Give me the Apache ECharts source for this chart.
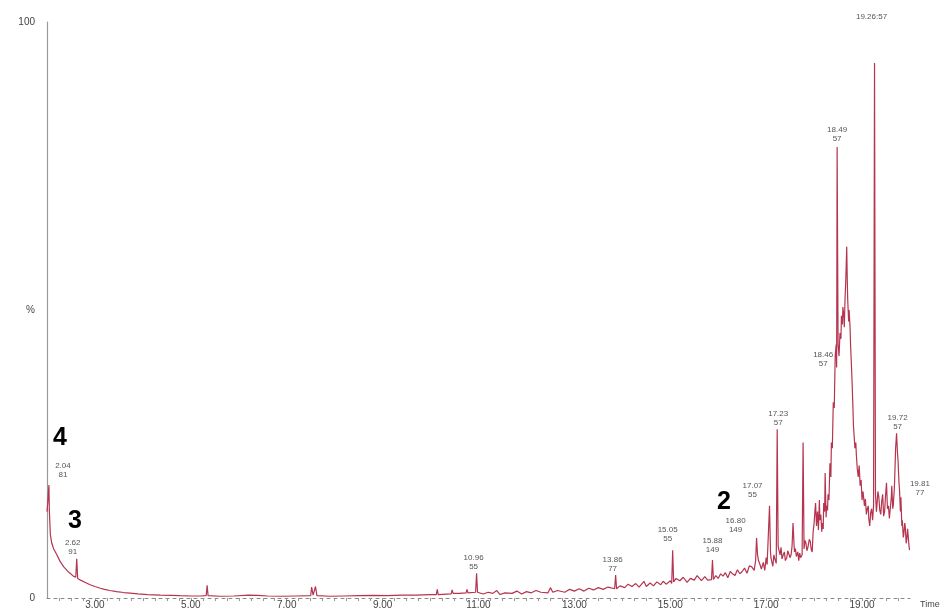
<!DOCTYPE html>
<html>
<head>
<meta charset="utf-8">
<script src="https://cdn.jsdelivr.net/npm/echarts@6/dist/echarts.min.js"></script>
<style>
  html, body { margin: 0; padding: 0; background: #fff; }
  #chromDiv { width: 949px; height: 612px; }
</style>
</head>
<body>
<div id="chromDiv"></div>
<script>
// retention time (min) and relative intensity (%), 10 per line
var times = [
    2.00, 2.02, 2.04, 2.05, 2.07, 2.10, 2.14, 2.20, 2.27, 2.35,
    2.45, 2.55, 2.60, 2.62, 2.64, 2.70, 2.80, 2.90, 3.00, 3.11,
    3.20, 3.31, 3.45, 3.60, 3.73, 3.90, 4.10, 4.36, 4.60, 4.77,
    5.00, 5.20, 5.32, 5.34, 5.36, 5.60, 5.90, 6.20, 6.40, 6.60,
    6.90, 7.20, 7.50, 7.52, 7.55, 7.60, 7.63, 7.90, 8.20, 8.50,
    8.80, 9.10, 9.40, 9.70, 10.00, 10.12, 10.14, 10.16, 10.43, 10.45,
    10.47, 10.60, 10.74, 10.76, 10.78, 10.94, 10.96, 10.98,
    11.10, 11.20, 11.30, 11.38, 11.45, 11.55, 11.70, 11.80, 11.90, 12.00,
    12.10, 12.20, 12.30, 12.45, 12.50, 12.55, 12.65, 12.80, 12.90, 13.00,
    13.10, 13.20, 13.30, 13.40, 13.50, 13.60, 13.70, 13.84, 13.86, 13.88,
    13.95, 14.05, 14.12, 14.20, 14.28, 14.35, 14.45, 14.50, 14.58, 14.65,
    14.72, 14.80, 14.85, 14.92, 15.00, 15.03, 15.05, 15.07, 15.12, 15.20,
    15.27, 15.35, 15.42, 15.50, 15.56, 15.60, 15.65, 15.72, 15.78, 15.86,
    15.88, 15.90, 15.95, 16.00, 16.05, 16.10, 16.15, 16.20, 16.25, 16.30,
    16.35, 16.40, 16.45, 16.50, 16.55, 16.60, 16.65, 16.70, 16.75, 16.78,
    16.80, 16.82, 16.84, 16.88, 16.90, 16.94, 16.97, 17.00, 17.02, 17.04,
    17.07, 17.09, 17.10, 17.12, 17.14, 17.16, 17.18, 17.21, 17.23, 17.25,
    17.27, 17.29, 17.31, 17.33, 17.36, 17.38, 17.40, 17.43, 17.45, 17.48,
    17.50, 17.52, 17.54, 17.56, 17.58, 17.59, 17.61, 17.63, 17.66, 17.68,
    17.70, 17.72, 17.75, 17.77, 17.79, 17.81, 17.83, 17.85, 17.87, 17.90,
    17.92, 17.94, 17.96, 17.98, 18.00, 18.02, 18.03, 18.05, 18.07, 18.09,
    18.11, 18.12, 18.14, 18.16, 18.17, 18.19, 18.20, 18.22, 18.23, 18.25,
    18.26, 18.28, 18.29, 18.31, 18.33, 18.35, 18.36, 18.38, 18.40, 18.42,
    18.44, 18.46, 18.47, 18.48, 18.50, 18.52, 18.54, 18.56, 18.57, 18.59,
    18.60, 18.62, 18.63, 18.645, 18.66, 18.67, 18.68, 18.69, 18.70, 18.72,
    18.73, 18.75, 18.76, 18.78, 18.79, 18.81, 18.82, 18.84, 18.85, 18.87,
    18.88, 18.90, 18.92, 18.94, 18.96, 18.98, 19.00, 19.02, 19.05, 19.07,
    19.09, 19.11, 19.13, 19.14, 19.16, 19.18, 19.20, 19.22, 19.24, 19.26,
    19.28, 19.30, 19.31, 19.33, 19.35, 19.37, 19.39, 19.41, 19.43, 19.45,
    19.47, 19.49, 19.51, 19.53, 19.55, 19.57, 19.59, 19.61, 19.62, 19.64,
    19.65, 19.67, 19.68, 19.70, 19.72, 19.74, 19.75, 19.77, 19.78, 19.80,
    19.81, 19.83, 19.84, 19.86, 19.87, 19.89, 19.90, 19.92, 19.93, 19.95,
    19.96, 19.98, 19.99
];
var intensity = [
    15.0, 17.0, 19.6, 15.0, 11.0, 9.5, 8.5, 7.6, 6.4, 5.4,
    4.5, 3.8, 3.6, 6.8, 3.4, 3.1, 2.7, 2.3, 2.0, 1.7,
    1.5, 1.3, 1.1, 0.95, 0.85, 0.7, 0.6, 0.5, 0.45, 0.4,
    0.35, 0.35, 0.4, 2.2, 0.4, 0.3, 0.35, 0.5, 0.45, 0.35,
    0.3, 0.35, 0.4, 1.9, 0.5, 2.0, 0.4, 0.3, 0.35, 0.4,
    0.45, 0.4, 0.5, 0.5, 0.6, 0.6, 1.5, 0.6, 0.7, 1.4,
    0.8, 0.8, 0.9, 1.5, 0.9, 1.0, 4.3, 1.0,
    0.7, 1.0, 0.8, 1.3, 0.6, 0.9, 0.8, 1.2, 0.7, 1.1,
    0.9, 1.3, 1.0, 0.9, 1.8, 1.0, 1.3, 1.0, 1.5, 1.2,
    1.6, 1.2, 1.7, 1.4, 1.8, 1.5, 1.9, 1.6, 4.0, 1.6,
    2.1, 1.8, 2.4, 2.0, 2.5, 1.9, 2.9, 2.0, 2.6, 2.1,
    2.8, 2.3, 2.9, 2.4, 3.0, 2.5, 8.3, 2.8, 3.4, 3.0,
    3.6, 2.7, 3.4, 3.1, 3.9, 3.5, 3.0, 3.7, 3.1, 3.2,
    6.6, 3.2, 3.9, 3.4, 4.2, 3.8, 4.4, 3.5, 4.6, 4.2,
    3.9, 4.9, 4.2, 4.6, 5.2, 4.3, 5.6, 5.4, 4.8, 6.5,
    10.4, 7.5, 6.5, 5.6, 5.0, 6.2, 4.8, 7.0, 5.8, 5.5,
    16.0, 8.0, 7.0, 6.2, 5.5, 7.5, 6.8, 6.0, 29.3, 9.0,
    8.2, 7.5, 8.8, 6.8, 7.6, 8.0, 6.5, 7.0, 8.2, 8.5,
    7.0, 7.5, 9.0, 13.0, 9.5, 8.0, 8.6, 7.2, 8.0, 6.5,
    7.8, 7.0, 7.5, 27.0, 8.5, 10.0, 9.5, 8.2, 8.8, 10.2,
    9.8, 8.4, 8.0, 11.5, 13.0, 15.5, 16.5, 12.5, 15.0, 11.8,
    17.0, 13.5, 14.5, 11.5, 13.0, 12.0, 16.5, 15.0, 21.7, 14.0,
    16.0, 15.2, 18.0, 17.0, 23.4, 21.0, 27.0, 26.0, 34.0, 33.0,
    42.0, 44.0, 40.0, 78.3, 44.0, 42.0, 46.0, 45.0, 49.0, 47.5,
    50.5, 49.0, 47.0, 52.0, 55.0, 58.0, 61.0, 56.0, 52.0, 48.0,
    50.0, 47.0, 44.0, 40.0, 38.0, 33.0, 30.0, 27.5, 26.0, 27.0,
    25.0, 22.5, 21.0, 23.0, 19.5, 20.5, 17.0, 18.5, 16.0, 17.2,
    14.5, 15.5, 16.0, 13.8, 12.5, 14.8, 15.5, 13.5, 16.0, 92.9,
    18.0, 15.0, 16.0, 18.5, 17.5, 15.2, 14.5, 16.8, 18.0, 14.2,
    15.0, 17.8, 20.0, 15.5, 16.0, 13.8, 14.0, 17.5, 19.5, 15.5,
    16.0, 18.5, 20.5, 26.0, 28.6, 25.0, 24.0, 20.0, 19.0, 15.0,
    17.5, 12.5, 13.5, 10.5, 11.0, 13.0, 12.5, 9.5, 10.0, 12.0,
    11.0, 9.0, 8.3
];
// peak annotations: retention time and label text
var peakTimes = [2.04, 2.62, 10.96, 13.86, 15.05, 15.88, 16.80, 17.07, 17.23, 18.46, 18.48, 19.26, 19.72, 19.81];
var peakTexts = ['2.04\n81', '2.62\n91', '10.96\n55', '13.86\n77', '15.05\n55', '15.88\n149', '16.80\n149',
                 '17.07\n55', '17.23\n57', '18.46\n57', '18.49\n57', '19.26:57', '19.72\n57', '19.81\n77'];
// label offsets (px) for each annotation
var peakOffsets = [[14, -4], [-4, -1], [-3, 0], [-3, 0], [-5, -5], [0, -4], [-21, -2],
                   [-17, -5], [1, 0], [-13, 26], [0, -2], [-3, -40], [1, 0], [19, 2]];
var xTickLabels = [3, 5, 7, 9, 11, 13, 15, 17, 19];
var yTickLabels = [0, 50, 100];

var seriesData = times.map(function (t, i) { return [t, intensity[i]]; });

function valueAt(t) {
    var idx = times.indexOf(t);
    return idx >= 0 ? intensity[idx] : 0;
}

var minorTicks = [];
for (var k = 2.25; k < 20; k += 0.25) { minorTicks.push(Math.round(k * 100) / 100); }

var markData = peakTimes.map(function (t, i) {
    return {
        coord: [t, valueAt(t)],
        value: peakTexts[i],
        label: { offset: peakOffsets[i] }
    };
});

var option = {
    backgroundColor: '#ffffff',
    animation: false,
    grid: { left: 47, right: 39, top: 22, bottom: 14 },
    xAxis: {
        type: 'value',
        min: 2,
        max: 20,
        name: 'Time',
        nameLocation: 'end',
        nameGap: 10,
        nameTextStyle: { fontSize: 9, color: '#444', fontFamily: 'Liberation Sans', verticalAlign: 'top', padding: [2, 0, 0, 0] },
        splitLine: { show: false },
        axisLine: { lineStyle: { color: '#888', width: 1, type: [3, 4] } },
        axisTick: { show: true, length: 3, customValues: minorTicks, lineStyle: { color: '#999' } },
        axisLabel: {
            customValues: xTickLabels,
            margin: 2,
            fontSize: 10,
            color: '#444',
            fontFamily: 'Liberation Sans',
            formatter: function (v) { return v.toFixed(2); }
        }
    },
    yAxis: {
        type: 'value',
        min: 0,
        max: 100,
        splitLine: { show: false },
        axisLine: { show: true, lineStyle: { color: '#999', width: 1.2 } },
        axisTick: { show: false },
        axisLabel: {
            customValues: yTickLabels,
            margin: 12,
            fontSize: 10,
            color: '#444',
            fontFamily: 'Liberation Sans',
            formatter: function (v) { return v === 50 ? '%' : String(v); }
        }
    },
    series: [{
        type: 'line',
        data: seriesData,
        symbol: 'none',
        lineStyle: { color: '#b5344f', width: 1.2 },
        markPoint: {
            symbol: 'circle',
            symbolSize: 0,
            label: {
                show: true,
                position: 'top',
                distance: 2,
                fontSize: 8,
                lineHeight: 9,
                color: '#555',
                fontFamily: 'Liberation Sans',
                formatter: function (p) { return p.value; }
            },
            data: markData
        }
    }],
    graphic: [
        { type: 'text', left: 53, top: 426, style: { text: '4', font: 'bold 25px Liberation Sans', fill: '#000' } },
        { type: 'text', left: 68, top: 509, style: { text: '3', font: 'bold 25px Liberation Sans', fill: '#000' } },
        { type: 'text', left: 717, top: 490, style: { text: '2', font: 'bold 25px Liberation Sans', fill: '#000' } }
    ]
};

var chart = echarts.init(document.getElementById('chromDiv'));
chart.setOption(option);
</script>
</body>
</html>
